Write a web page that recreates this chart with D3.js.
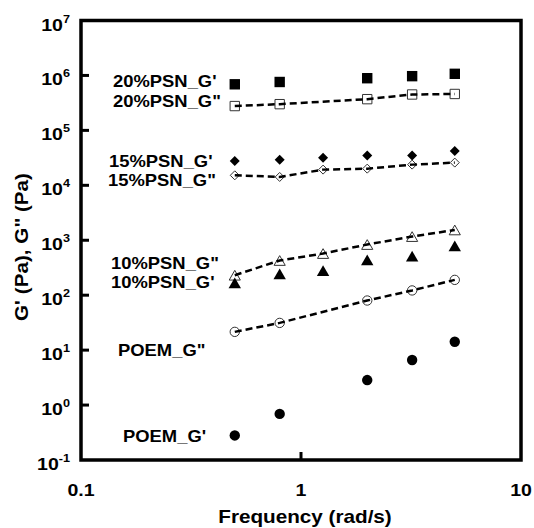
<!DOCTYPE html>
<html><head><meta charset="utf-8">
<script src="https://cdn.jsdelivr.net/npm/d3@7"></script>
<style>html,body{margin:0;padding:0;background:#fff;} svg{display:block;}</style>
</head><body>
<svg id="chart" width="534" height="528"></svg>
<script>
// ---- data ----
const freq6 = [0.5, 0.8, 1.26, 2.0, 3.2, 5.0];
const freq5 = [0.5, 0.8, 2.0, 3.2, 5.0];
const psn20_Gp  = [6.9e5, 7.6e5, 8.9e5, 9.7e5, 1.07e6];
const psn20_Gpp = [2.77e5, 3.0e5, 3.7e5, 4.5e5, 4.6e5];
const psn15_Gp  = [2.77e4, 2.93e4, 3.19e4, 3.5e4, 3.5e4, 4.2e4];
const psn15_Gpp = [1.52e4, 1.42e4, 1.93e4, 2.01e4, 2.38e4, 2.59e4];
const psn10_Gpp = [231, 428, 573, 836, 1167, 1540];
const psn10_Gp  = [167, 244, 281, 438, 512, 787];
const poem_Gpp  = [21.5, 31.3, 80, 122, 190];
const poem_Gp   = [0.28, 0.69, 2.85, 6.6, 14.2];
const yTickExps = [-1, 0, 1, 2, 3, 4, 5, 6, 7];
const xTickVals = [0.1, 1, 10];
const xTickLabels = ["0.1", "1", "10"];
const seriesLabels = ["20%PSN_G'", "20%PSN_G\"", "15%PSN_G'", "15%PSN_G\"", "10%PSN_G\"", "10%PSN_G'", "POEM_G\"", "POEM_G'"];

// ---- layout ----
const svg = d3.select("#chart");
const L = 81, R = 521, T = 20.5, B = 460;
const x = d3.scaleLog().domain([0.1, 10]).range([L, R]);
const y = d3.scaleLog().domain([0.1, 1e7]).range([B, T]);
const SX = 1.15;
const FONT = "'Liberation Sans', Arial, Helvetica, sans-serif";

function txt(px, py, str, size, anchor, rot) {
  return svg.append("text")
    .attr("transform", `translate(${px},${py})` + (rot ? ` rotate(${rot})` : "") + ` scale(${SX},1)`)
    .attr("text-anchor", anchor || "start")
    .attr("font-family", FONT).attr("font-weight", "bold")
    .attr("font-size", size).attr("fill", "#000")
    .text(str);
}

// ---- series definitions ----
const series = [
  {xs: freq5, ys: psn20_Gp,  shape: "square",   fill: true,  line: false},
  {xs: freq5, ys: psn20_Gpp, shape: "square",   fill: false, line: true},
  {xs: freq6, ys: psn15_Gp,  shape: "diamond",  fill: true,  line: false},
  {xs: freq6, ys: psn15_Gpp, shape: "diamond",  fill: false, line: true},
  {xs: freq6, ys: psn10_Gpp, shape: "triangle", fill: false, line: true},
  {xs: freq6, ys: psn10_Gp,  shape: "triangle", fill: true,  line: false},
  {xs: freq5, ys: poem_Gpp,  shape: "circle",   fill: false, line: true},
  {xs: freq5, ys: poem_Gp,   shape: "circle",   fill: true,  line: false}
];

function shapePath(shape, filled) {
  const s = filled ? 1 : 0.9;
  switch (shape) {
    case "square": { const h = 5.2 * s; return `M${-h},${-h}H${h}V${h}H${-h}Z`; }
    case "diamond": { const h = 5 * s; return `M0,${-h}L${h},0L0,${h}L${-h},0Z`; }
    case "triangle": { const w = 6.2 * s, hh = 5.4 * s; return `M0,${-hh}L${w},${hh}L${-w},${hh}Z`; }
    case "circle": { const r = 5.2 * s; return `M${r},0A${r},${r} 0 1,1 ${-r},0A${r},${r} 0 1,1 ${r},0Z`; }
  }
}

const gMarks = svg.append("g");
series.forEach(sr => {
  const pts = sr.xs.map((f, i) => [f, sr.ys[i]]);
  gMarks.append("g").selectAll("path").data(pts).join("path")
    .attr("transform", d => `translate(${x(d[0])},${y(d[1])})`)
    .attr("d", shapePath(sr.shape, sr.fill))
    .attr("fill", sr.fill ? "#000" : "#fff")
    .attr("stroke", sr.fill ? "none" : "#333")
    .attr("stroke-width", 1);
});
const lineGen = d3.line().x(d => x(d[0])).y(d => y(d[1]));
series.filter(s => s.line).forEach(sr => {
  const pts = sr.xs.map((f, i) => [f, sr.ys[i]]);
  svg.append("path").attr("d", lineGen(pts))
    .attr("fill", "none").attr("stroke", "#000")
    .attr("stroke-width", 2.5).attr("stroke-dasharray", "7,4");
});

// ---- frame & ticks ----
svg.append("rect").attr("x", L).attr("y", T).attr("width", R - L).attr("height", B - T)
  .attr("fill", "none").attr("stroke", "#000").attr("stroke-width", 3.5);
yTickExps.filter(e => e > -1 && e < 7).forEach(e => {
  svg.append("line").attr("x1", L).attr("x2", L + 8)
    .attr("y1", y(Math.pow(10, e))).attr("y2", y(Math.pow(10, e)))
    .attr("stroke", "#000").attr("stroke-width", 3);
});
xTickVals.filter(v => v > 0.1 && v < 10).forEach(v => {
  svg.append("line").attr("x1", x(v)).attr("x2", x(v))
    .attr("y1", B).attr("y2", B - 8)
    .attr("stroke", "#000").attr("stroke-width", 3);
});

// ---- tick labels ----
yTickExps.forEach(e => {
  const ty = y(Math.pow(10, e));
  const t = svg.append("text")
    .attr("transform", `translate(70,${ty + 10}) scale(${SX},1)`)
    .attr("text-anchor", "end")
    .attr("font-family", FONT).attr("font-weight", "bold").attr("fill", "#000");
  t.append("tspan").attr("font-size", 17).text("10");
  t.append("tspan").attr("font-size", 11).attr("dy", -8).text(String(e));
});
xTickVals.forEach((v, i) => txt(x(v), 496, xTickLabels[i], 17, "middle"));

// ---- axis titles ----
txt(305, 523, "Frequency (rad/s)", 18, "middle");
txt(28, 247, "G' (Pa), G\" (Pa)", 18, "middle", -90);

// ---- series labels ----
const labelPos = [[113, 87], [113, 107], [109, 167], [108, 186], [111, 269], [111, 288], [118, 356], [123, 442]];
seriesLabels.forEach((s, i) => txt(labelPos[i][0], labelPos[i][1], s, 16, "start"));
</script>
</body></html>
